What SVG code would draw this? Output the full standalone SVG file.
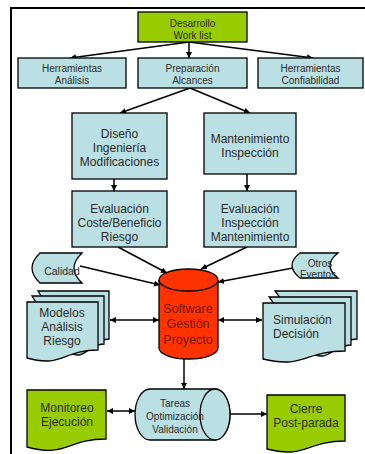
<svg xmlns="http://www.w3.org/2000/svg" width="365" height="454" viewBox="0 0 365 454">
  <style>
    .box { fill: #BBE0E3; stroke: #000; stroke-width: 1.3; }
    .green { fill: #99CC00; stroke: #000; stroke-width: 1.3; }
    .red { fill: #FF3300; stroke: #000; stroke-width: 1.3; }
    .t { font-family: "Liberation Sans", Arial, sans-serif; fill: #2a2a2a; text-anchor: middle; }
    .s10 { font-size: 10px; }
    .s12 { font-size: 12px; }
    .red-t { fill: #6e1800; font-size: 12.5px; }
    .conn { fill: none; stroke: #000; stroke-width: 1.5; }
  </style>
  <defs>
    <marker id="ah" viewBox="0 0 10 10" refX="10" refY="5" markerWidth="6" markerHeight="6" markerUnits="userSpaceOnUse" orient="auto-start-reverse">
      <path d="M0,0 L10,5 L0,10 z" fill="#000"/>
    </marker>
  </defs>

  <rect width="365" height="454" fill="#fff"/>
  <!-- page frame -->
  <path d="M11,454 V8 H365" fill="none" stroke="#000" stroke-width="2"/>

  <g id="connectors">
    <line class="conn" x1="189" y1="42" x2="70" y2="58" marker-end="url(#ah)"/>
    <line class="conn" x1="189" y1="42" x2="189" y2="58" marker-end="url(#ah)"/>
    <line class="conn" x1="189" y1="42" x2="313" y2="58" marker-end="url(#ah)"/>
    <line class="conn" x1="190" y1="88" x2="120" y2="113" marker-end="url(#ah)"/>
    <line class="conn" x1="190" y1="88" x2="250" y2="113" marker-end="url(#ah)"/>
    <line class="conn" x1="114" y1="179" x2="114" y2="191" marker-end="url(#ah)"/>
    <line class="conn" x1="247" y1="174" x2="247" y2="191" marker-end="url(#ah)"/>
    <line class="conn" x1="118" y1="247" x2="167" y2="273" marker-end="url(#ah)"/>
    <line class="conn" x1="247" y1="247" x2="201" y2="269" marker-end="url(#ah)"/>
    <line class="conn" x1="80" y1="266" x2="160" y2="285" marker-end="url(#ah)"/>
    <line class="conn" x1="293" y1="268" x2="218" y2="282" marker-end="url(#ah)"/>
    <line class="conn" x1="110" y1="320" x2="159" y2="320" marker-start="url(#ah)" marker-end="url(#ah)"/>
    <line class="conn" x1="218" y1="320" x2="262" y2="320" marker-start="url(#ah)" marker-end="url(#ah)"/>
    <line class="conn" x1="184" y1="359" x2="184" y2="389" marker-end="url(#ah)"/>
    <line class="conn" x1="107" y1="411" x2="135" y2="411" marker-start="url(#ah)" marker-end="url(#ah)"/>
    <line class="conn" x1="230" y1="414" x2="267" y2="414" marker-end="url(#ah)"/>
  </g>

  <g id="desarrollo">
    <rect class="green" x="138" y="12" width="109" height="30"/>
    <text class="t s10" x="192.5" y="26.5">Desarrollo</text>
    <text class="t s10" x="192.5" y="38.5">Work list</text>
  </g>

  <g id="herr-analisis">
    <rect class="box" x="18" y="58" width="108" height="30"/>
    <text class="t s10" x="72" y="72">Herramientas</text>
    <text class="t s10" x="72" y="84">Análisis</text>
  </g>

  <g id="preparacion">
    <rect class="box" x="138" y="58" width="109" height="30"/>
    <text class="t s10" x="192.5" y="72">Preparación</text>
    <text class="t s10" x="192.5" y="84">Alcances</text>
  </g>

  <g id="herr-confiabilidad">
    <rect class="box" x="258" y="58" width="105" height="30"/>
    <text class="t s10" x="310.5" y="72">Herramientas</text>
    <text class="t s10" x="310.5" y="84">Confiabilidad</text>
  </g>

  <g id="diseno">
    <rect class="box" x="72" y="113" width="95" height="66"/>
    <text class="t s12" x="119.5" y="137.5">Diseño</text>
    <text class="t s12" x="119.5" y="151.5">Ingeniería</text>
    <text class="t s12" x="119.5" y="165.5">Modificaciones</text>
  </g>

  <g id="mantenimiento">
    <rect class="box" x="204" y="113" width="92" height="61"/>
    <text class="t s12" x="250" y="142.5">Mantenimiento</text>
    <text class="t s12" x="250" y="156.5">Inspección</text>
  </g>

  <g id="eval-coste">
    <rect class="box" x="72" y="191" width="95" height="56"/>
    <text class="t s12" x="119.5" y="212.5">Evaluación</text>
    <text class="t s12" x="119.5" y="226.5">Coste/Beneficio</text>
    <text class="t s12" x="119.5" y="240.5">Riesgo</text>
  </g>

  <g id="eval-inspeccion">
    <rect class="box" x="204" y="191" width="92" height="56"/>
    <text class="t s12" x="250" y="212.5">Evaluación</text>
    <text class="t s12" x="250" y="226.5">Inspección</text>
    <text class="t s12" x="250" y="240.5">Mantenimiento</text>
  </g>

  <g id="calidad">
    <path class="box" d="M40,253 H82 Q66,268 82,283 H40 Q24,268 40,253 Z"/>
    <text class="t" style="font-size:10.5px" x="62" y="274.5">Calidad</text>
  </g>

  <g id="otros-eventos">
    <path class="box" d="M300,253 H338 Q322,265.5 338,278 H300 Q284,265.5 300,253 Z"/>
    <text class="t s10" x="320" y="267">Otros</text>
    <text class="t s10" x="318" y="278">Eventos</text>
  </g>

  <g id="software">
    <path class="red" d="M159,280 V348 A29.5,11 0 0 0 218,348 V280"/>
    <ellipse class="red" cx="188.5" cy="280" rx="29.5" ry="11"/>
    <text class="t red-t" x="188" y="312.5">Software</text>
    <text class="t red-t" x="188" y="327.5">Gestión</text>
    <text class="t red-t" x="188" y="343.5">Proyecto</text>
  </g>

  <g id="modelos">
    <path class="box" d="M38,291 H109 V339 C91,339 91,357 73,347 Z"/>
    <path class="box" d="M32,296 H104 V344 C86,344 86,362 68,352 Z"/>
    <path class="box" d="M27,302 H98 V350 C62.5,350 62.5,368 27,358 Z"/>
    <text class="t s12" x="62" y="317">Modelos</text>
    <text class="t s12" x="62" y="331">Análisis</text>
    <text class="t s12" x="62" y="345">Riesgo</text>
  </g>

  <g id="simulacion">
    <path class="box" d="M275,291 H357 V339 C337,339 337,357 316,347 Z"/>
    <path class="box" d="M269,297 H351 V345 C331,345 331,363 310,353 Z"/>
    <path class="box" d="M263,303 H345 V351 C304,351 304,369 263,359 Z"/>
    <text class="t s12" x="273" y="324" style="text-anchor:start">Simulación</text>
    <text class="t s12" x="273" y="338" style="text-anchor:start">Decisión</text>
  </g>

  <g id="tareas">
    <path class="box" d="M150,389 H215 A15,25.5 0 0 1 215,440 H150 A15,25.5 0 0 1 150,389 Z"/>
    <ellipse class="box" cx="215" cy="414.5" rx="15" ry="25.5"/>
    <text class="t s10" x="175" y="407">Tareas</text>
    <text class="t s10" x="175" y="420">Optimización</text>
    <text class="t s10" x="175" y="433">Validación</text>
  </g>

  <g id="monitoreo">
    <path class="green" d="M27,390 H106 V439 C66.5,439 66.5,458 27,447 Z"/>
    <text class="t s12" x="67" y="412">Monitoreo</text>
    <text class="t s12" x="67" y="426">Ejecución</text>
  </g>

  <g id="cierre">
    <path class="green" d="M267,395 H345 V441 C306,441 306,459 267,449 Z"/>
    <text class="t s12" x="306" y="413">Cierre</text>
    <text class="t s12" x="306" y="427">Post-parada</text>
  </g>
</svg>
